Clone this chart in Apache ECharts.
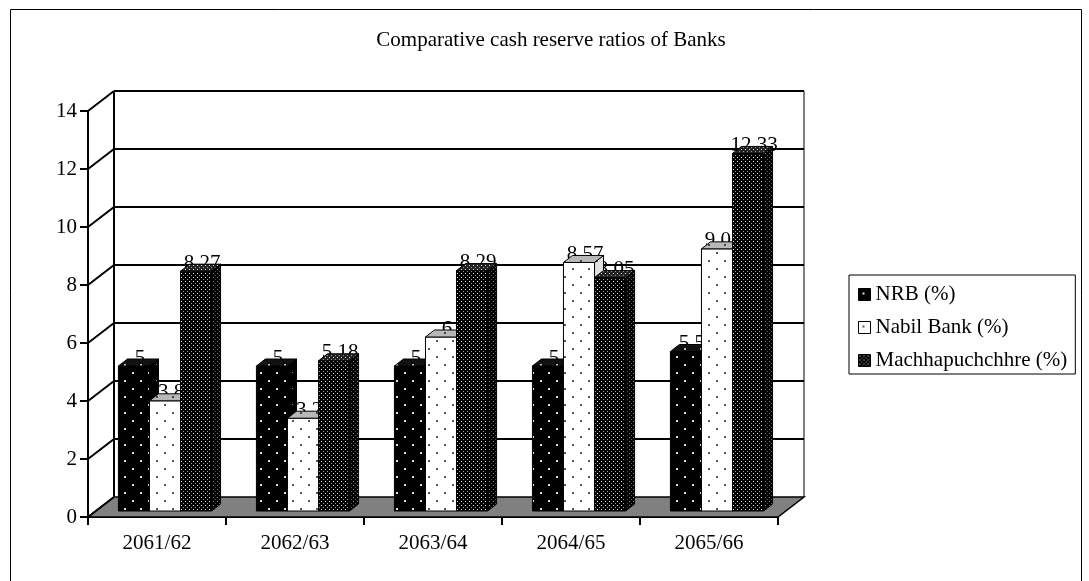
<!DOCTYPE html>
<html>
<head>
<meta charset="utf-8">
<script src="https://cdn.jsdelivr.net/npm/echarts@6/dist/echarts.min.js"></script>
<style>
  html, body { margin: 0; padding: 0; background: #fff; }
  #chart { width: 1089px; height: 581px; }
</style>
</head>
<body>
<div id="chart"></div>
<script>
// ---- data ----
const categories = ['2061/62', '2062/63', '2063/64', '2064/65', '2065/66'];
const nrb = [5, 5, 5, 5, 5.5];
const nabil = [3.8, 3.2, 6, 8.57, 9.04];
const machha = [8.27, 5.18, 8.29, 8.05, 12.33];
const seriesNames = ['NRB (%)', 'Nabil Bank (%)', 'Machhapuchchhre (%)'];
const yTicks = [0, 2, 4, 6, 8, 10, 12, 14];
const titleText = 'Comparative cash reserve ratios of Banks';

// ---- styling helpers ----
const FONT = "'Liberation Serif', 'Times New Roman', serif";
const FS = 21;
const WDX = 26, WDY = -20;   // depth of the back wall
const BDX = 8, BDY = -6;     // bars' front plane offset
const CDX = 9, CDY = -7;     // bar depth
const BAR_FRAC = 0.225;

function makePattern(w, h, bg, dots) {
  const c = document.createElement('canvas');
  c.width = w; c.height = h;
  const g = c.getContext('2d');
  g.fillStyle = bg; g.fillRect(0, 0, w, h);
  dots.forEach(d => { g.fillStyle = d[4]; g.fillRect(d[0], d[1], d[2], d[3]); });
  return { image: c, repeat: 'repeat' };
}
const pats = [
  { front: makePattern(16, 16, '#000', [[4, 4, 2, 2, '#e0e0e0'], [12, 12, 2, 2, '#e0e0e0']]),
    top:   makePattern(16, 16, '#111', [[4, 4, 2, 2, '#bbb'], [12, 12, 2, 2, '#bbb']]),
    side:  makePattern(16, 16, '#000', [[4, 4, 1, 1, '#999'], [12, 12, 1, 1, '#999']]) },
  { front: makePattern(16, 16, '#fff', [[4, 4, 2, 2, '#555'], [12, 12, 2, 2, '#555']]),
    top:   makePattern(16, 16, '#b8b8b8', [[4, 4, 2, 2, '#444'], [12, 12, 2, 2, '#444']]),
    side:  makePattern(16, 16, '#e0e0e0', [[4, 4, 2, 2, '#555'], [12, 12, 2, 2, '#555']]) },
  { front: makePattern(4, 4, '#000', [[1, 1, 1, 1, '#f0f0f0'], [3, 3, 1, 1, '#a0a0a0']]),
    top:   makePattern(4, 4, '#222', [[1, 1, 1, 1, '#ddd'], [3, 3, 1, 1, '#999']]),
    side:  makePattern(4, 4, '#000', [[1, 1, 1, 1, '#888'], [3, 3, 1, 1, '#555']]) }
];
const allData = [nrb, nabil, machha];

function barGeom(api, k) {
  const c = api.coord([api.value(0), api.value(1)]);
  const c0 = api.coord([api.value(0), 0]);
  const band = api.size([1, 0])[0];
  const bw = band * BAR_FRAC;
  const x = c[0] + BDX + (k - 1) * bw - bw / 2;
  return { x: x, bw: bw, yTop: c[1] + BDY, yBot: c0[1] + BDY };
}

function barSeries(k) {
  return {
    name: seriesNames[k],
    type: 'custom',
    z: 4,
    itemStyle: { color: pats[k].front },
    data: allData[k].map((v, i) => [i, v]),
    encode: { x: 0, y: 1 },
    renderItem: function (params, api) {
      const g = barGeom(api, k);
      const s = { stroke: '#000', lineWidth: 1 };
      return {
        type: 'group',
        children: [
          { type: 'polygon', shape: { points: [[g.x + g.bw, g.yTop], [g.x + g.bw + CDX, g.yTop + CDY], [g.x + g.bw + CDX, g.yBot + CDY], [g.x + g.bw, g.yBot]] },
            style: Object.assign({ fill: pats[k].side }, s) },
          { type: 'rect', shape: { x: g.x, y: g.yTop, width: g.bw, height: g.yBot - g.yTop },
            style: Object.assign({ fill: pats[k].front }, s) },
          { type: 'polygon', shape: { points: [[g.x, g.yTop], [g.x + g.bw, g.yTop], [g.x + g.bw + CDX, g.yTop + CDY], [g.x + CDX, g.yTop + CDY]] },
            style: Object.assign({ fill: pats[k].top }, s) }
        ]
      };
    }
  };
}

function labelSeries(k) {
  return {
    name: seriesNames[k] + ' label',
    type: 'custom',
    z: 3,
    silent: true,
    data: allData[k].map((v, i) => [i, v]),
    encode: { x: 0, y: 1 },
    renderItem: function (params, api) {
      const g = barGeom(api, k);
      return {
        type: 'text',
        style: {
          text: String(api.value(1)),
          x: g.x + g.bw / 2 + 6,
          y: g.yTop - 8,
          align: 'center',
          verticalAlign: 'middle',
          font: FS + 'px ' + FONT,
          fill: '#000'
        }
      };
    }
  };
}

const wallSeries = {
  name: 'walls',
  type: 'custom',
  z: 1,
  silent: true,
  data: yTicks.map(v => [0, v]),
  encode: { x: 0, y: 1 },
  renderItem: function (params, api) {
    const v = api.value(1);
    const cs = params.coordSys;
    const x0 = cs.x, x1 = cs.x + cs.width;
    const yF = api.coord([0, v])[1];
    const ln = { stroke: '#000', lineWidth: 2 };
    const ch = [];
    if (v === 0) {
      const yTopBack = api.coord([0, yTicks[yTicks.length - 1]])[1] + WDY;
      ch.push({ type: 'polygon', shape: { points: [[x0, yF], [x1, yF], [x1 + WDX, yF + WDY], [x0 + WDX, yF + WDY]] },
        style: { fill: '#808080', stroke: '#000', lineWidth: 1.5 } });
      ch.push({ type: 'line', shape: { x1: x0 + WDX, y1: yF + WDY, x2: x0 + WDX, y2: yTopBack }, style: ln });
      ch.push({ type: 'line', shape: { x1: x1 + WDX, y1: yF + WDY, x2: x1 + WDX, y2: yTopBack }, style: { stroke: '#000', lineWidth: 1 } });
    } else {
      ch.push({ type: 'line', shape: { x1: x0 + WDX, y1: yF + WDY, x2: x1 + WDX, y2: yF + WDY }, style: ln });
    }
    ch.push({ type: 'line', shape: { x1: x0, y1: yF, x2: x0 + WDX, y2: yF + WDY }, style: ln });
    return { type: 'group', children: ch };
  }
};

const chart = echarts.init(document.getElementById('chart'), null, { renderer: 'canvas' });
chart.setOption({
  animation: false,
  backgroundColor: '#fff',
  title: {
    text: titleText,
    left: 551,
    textAlign: 'center',
    top: 30,
    padding: 0,
    textStyle: { fontFamily: FONT, fontSize: FS, fontWeight: 'normal', color: '#000' }
  },
  graphic: [{
    type: 'rect', silent: true, z: -10,
    shape: { x: 10.5, y: 9.5, width: 1071, height: 620 },
    style: { fill: 'none', stroke: '#000', lineWidth: 1 }
  }],
  legend: {
    orient: 'vertical',
    left: 849,
    top: 275,
    padding: [9, 8, 3, 9],
    itemWidth: 12,
    itemHeight: 12,
    itemGap: 12,
    backgroundColor: '#fff',
    borderColor: '#000',
    borderWidth: 1,
    borderRadius: 0,
    icon: 'rect',
    selectedMode: false,
    textStyle: { fontFamily: FONT, fontSize: FS, color: '#000', lineHeight: 21 },
    data: seriesNames.map((n, k) => ({ name: n, itemStyle: { color: pats[k].front, borderColor: '#000', borderWidth: 1 } }))
  },
  grid: { left: 88, right: 311, top: 111, bottom: 64, containLabel: false },
  xAxis: {
    type: 'category',
    data: categories,
    axisLine: { show: true, lineStyle: { color: '#000', width: 2 } },
    axisTick: { show: true, length: 8, lineStyle: { color: '#000', width: 2 } },
    axisLabel: { color: '#000', fontFamily: FONT, fontSize: FS, margin: 16 },
    splitLine: { show: false }
  },
  yAxis: {
    type: 'value',
    min: 0,
    max: 14,
    interval: 2,
    axisLine: { show: true, lineStyle: { color: '#000', width: 2 } },
    axisTick: { show: true, length: 8, lineStyle: { color: '#000', width: 2 } },
    axisLabel: { color: '#000', fontFamily: FONT, fontSize: FS, margin: 11 },
    splitLine: { show: false }
  },
  series: [wallSeries, labelSeries(0), labelSeries(1), labelSeries(2), barSeries(0), barSeries(1), barSeries(2)]
});
</script>
</body>
</html>
